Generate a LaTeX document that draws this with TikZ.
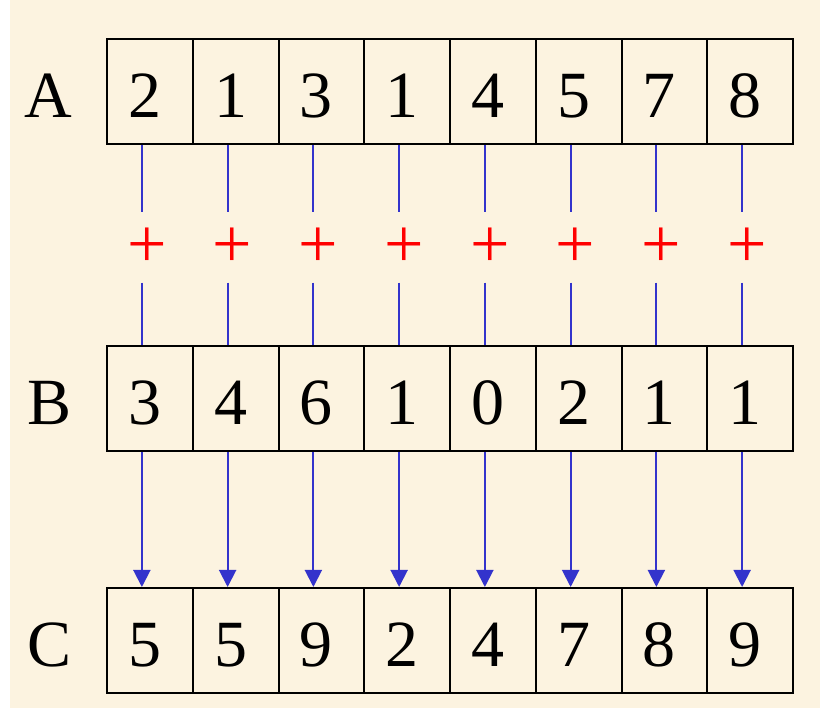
\documentclass[tikz,border=0pt]{standalone}
\usepackage{fontspec}
\setmainfont{Liberation Serif}
\usetikzlibrary{arrows.meta, positioning, calc}
\definecolor{paper}{RGB}{252,243,224}
\definecolor{linkblue}{RGB}{51,51,204}

\begin{document}
\begin{tikzpicture}[x=1pt, y=-1pt,
    cell/.style={draw, line width=2pt, minimum width=85.75pt, minimum height=105pt, inner sep=0pt,
      text height=52pt, text depth=0pt, font=\fontsize{66}{66}\selectfont},
    rowname/.style={inner sep=0pt, text height=52pt, text depth=0pt, font=\fontsize{66}{66}\selectfont},
    plus/.style={text=red, inner sep=0pt, minimum height=70pt, font=\fontsize{70}{70}\selectfont},
    link/.style={linkblue, line width=2pt},
    arrow/.style={-{Triangle[length=17pt, width=17pt]}, linkblue, line width=2pt}
  ]

    % Background
    \fill[white] (0,0) rectangle (820,708);
    \fill[paper] (10,0) rectangle (820,708);
    \useasboundingbox (0,0) rectangle (820,708);

    % Cells of A, B and C (digits sit a little left of centre)
    \foreach \i/\a/\b/\c in {1/2/3/5, 2/1/4/5, 3/3/6/9, 4/1/1/2, 5/4/0/4, 6/5/2/7, 7/7/1/8, 8/8/1/9} {
      \node[cell] (a\i) at ({107+85.75*(\i-0.5)}, 91.5) {\a\kern10pt};
      \node[cell] (b\i) at ({107+85.75*(\i-0.5)}, 399) {\b\kern10pt};
      \node[cell] (c\i) at ({107+85.75*(\i-0.5)}, 640.5) {\c\kern10pt};
      \node[plus] (p\i) at ({107+85.75*(\i-0.5)-3}, 247.5) {+};
    }

    % Row names
    \node[rowname, left=34pt of a1] (rowa) {A};
    \node[rowname, left=34pt of b1] (rowb) {B};
    \node[rowname, left=34pt of c1] (rowc) {C};

    % Links
    \foreach \i in {1,...,8} {
      \draw[link] ([xshift=-8pt]a\i.south) -- ([xshift=-8pt]a\i.south |- p\i.north);
      \draw[link] ([xshift=-8pt]b\i.north |- p\i.south) -- ([xshift=-8pt]b\i.north);
      \draw[arrow] ([xshift=-8pt]b\i.south) -- ([xshift=-8pt]c\i.north);
    }

  \end{tikzpicture}
\end{document}
